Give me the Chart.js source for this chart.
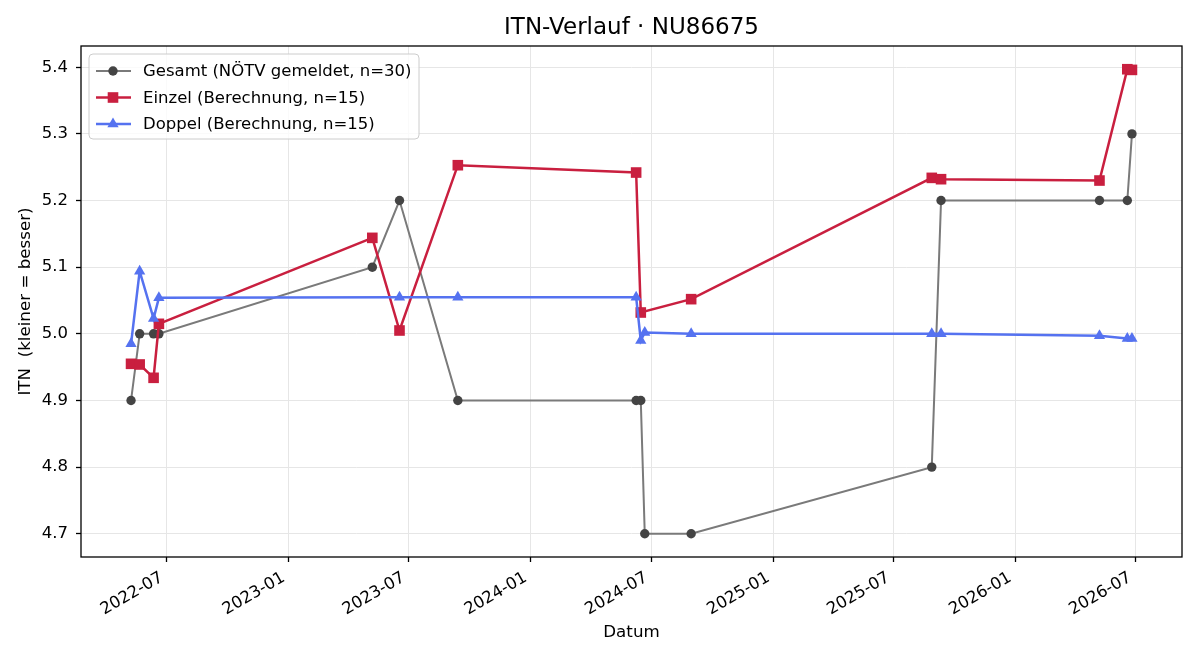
<!DOCTYPE html>
<html lang="de">
<head>
<meta charset="utf-8">
<title>ITN-Verlauf · NU86675</title>
<script src="https://cdn.jsdelivr.net/npm/chart.js@4.4.1/dist/chart.umd.min.js"></script>
<style>
  html, body { margin: 0; padding: 0; background: #fff; }
  #wrap { width: 1200px; height: 660px; }
</style>
</head>
<body>
<div id="wrap"><canvas id="itn-chart" width="1200" height="660"></canvas></div>
<script>
// Werte

const chartTitle = 'ITN-Verlauf · NU86675';

const gesamtDates = ['2022-05-08', '2022-05-21', '2022-06-11', '2022-06-19', '2023-05-07', '2023-06-17',
  '2023-09-13', '2024-06-08', '2024-06-15', '2024-06-21', '2024-08-30', '2025-08-28',
  '2025-09-11', '2026-05-08', '2026-06-19', '2026-06-26'];
const gesamtValues = [4.9, 5.0, 5.0, 5.0, 5.1, 5.2, 4.9, 4.9, 4.9, 4.7, 4.7, 4.8, 5.2, 5.2, 5.2, 5.3];

const einzelDates = ['2022-05-08', '2022-05-21', '2022-06-11', '2022-06-19', '2023-05-07', '2023-06-17',
  '2023-09-13', '2024-06-08', '2024-06-15', '2024-08-30', '2025-08-28', '2025-09-11',
  '2026-05-08', '2026-06-19', '2026-06-26'];
const einzelValues = [4.955, 4.954, 4.934, 5.015, 5.144, 5.005, 5.253, 5.242, 5.032, 5.052, 5.234, 5.232,
  5.230, 5.397, 5.396];

const doppelDates = ['2022-05-08', '2022-05-21', '2022-06-11', '2022-06-19', '2023-06-17', '2023-09-13',
  '2024-06-08', '2024-06-15', '2024-06-21', '2024-08-30', '2025-08-28', '2025-09-11',
  '2026-05-08', '2026-06-19', '2026-06-26'];
const doppelValues = [4.985, 5.094, 5.023, 5.054, 5.055, 5.055, 5.055, 4.990, 5.002, 5.000, 5.000, 5.000,
  4.997, 4.993, 4.993];

const xTickLabels = ['2022-07', '2023-01', '2023-07', '2024-01', '2024-07', '2025-01', '2025-07', '2026-01', '2026-07'];
const yTickValues = [4.7, 4.8, 4.9, 5.0, 5.1, 5.2, 5.3, 5.4];

const FONT = "'DejaVu Sans', 'Noto Sans', sans-serif";

function toTime(s) {
  const [y, m, d] = s.split('-').map(Number);
  return Date.UTC(y, m - 1, d || 1);
}

function toPoints(dates, values) {
  return dates.map((d, i) => ({ x: toTime(d), y: values[i] }));
}

// Achsenbereich wie matplotlib: 5 % Rand um die Daten
const allTimes = [...gesamtDates, ...einzelDates, ...doppelDates].map(toTime);
const allValues = [...gesamtValues, ...einzelValues, ...doppelValues];
const tMin = Math.min(...allTimes), tMax = Math.max(...allTimes);
const vMin = Math.min(...allValues), vMax = Math.max(...allValues);
const tPad = (tMax - tMin) * 0.05, vPad = (vMax - vMin) * 0.05;

// Marker wie in Chart.js zeichnen (für die Legende)
function drawMarker(ctx, style, x, y, r, color) {
  ctx.fillStyle = color;
  ctx.beginPath();
  if (style === 'rect') {
    const s = Math.SQRT1_2 * r;
    ctx.rect(x - s, y - s, 2 * s, 2 * s);
  } else if (style === 'triangle') {
    let rad = 0;
    ctx.moveTo(x + Math.sin(rad) * r, y - Math.cos(rad) * r);
    rad += 2 * Math.PI / 3;
    ctx.lineTo(x + Math.sin(rad) * r, y - Math.cos(rad) * r);
    rad += 2 * Math.PI / 3;
    ctx.lineTo(x + Math.sin(rad) * r, y - Math.cos(rad) * r);
    ctx.closePath();
  } else {
    ctx.arc(x, y, r, 0, Math.PI * 2);
  }
  ctx.fill();
}

// Titel über der Mitte der Zeichenfläche (nicht der ganzen Leinwand)
const areaTitle = {
  id: 'areaTitle',
  afterDraw(chart) {
    const { ctx, chartArea: a } = chart;
    ctx.save();
    ctx.fillStyle = '#000';
    ctx.font = '23px ' + FONT;
    ctx.textAlign = 'center';
    ctx.textBaseline = 'middle';
    ctx.fillText(chartTitle, (a.left + a.right) / 2, 28);
    ctx.restore();
  }
};

// Legende innerhalb der Zeichenfläche (oben links)
const innerLegend = {
  id: 'innerLegend',
  afterDatasetsDraw(chart) {
    const ctx = chart.ctx;
    const area = chart.chartArea;
    const x0 = area.left + 8, y0 = area.top + 8, w = 330, h = 85, r = 4;
    ctx.save();
    ctx.beginPath();
    ctx.moveTo(x0 + r, y0);
    ctx.arcTo(x0 + w, y0, x0 + w, y0 + h, r);
    ctx.arcTo(x0 + w, y0 + h, x0, y0 + h, r);
    ctx.arcTo(x0, y0 + h, x0, y0, r);
    ctx.arcTo(x0, y0, x0 + w, y0, r);
    ctx.closePath();
    ctx.fillStyle = 'rgba(255,255,255,0.8)';
    ctx.fill();
    ctx.strokeStyle = '#cccccc';
    ctx.lineWidth = 1;
    ctx.stroke();

    chart.data.datasets.forEach((ds, i) => {
      const cy = y0 + 17 + i * 26.5;
      ctx.beginPath();
      ctx.moveTo(x0 + 7, cy);
      ctx.lineTo(x0 + 42, cy);
      ctx.strokeStyle = ds.borderColor;
      ctx.lineWidth = ds.borderWidth;
      ctx.stroke();
      drawMarker(ctx, ds.pointStyle, x0 + 24, cy, ds.pointRadius, ds.pointBackgroundColor);
      ctx.fillStyle = '#000';
      ctx.font = '16.5px ' + FONT;
      ctx.textBaseline = 'middle';
      ctx.textAlign = 'left';
      ctx.fillText(ds.label, x0 + 54, cy + 1);
    });
    ctx.restore();
  }
};

// schwarzer Rahmen um die Zeichenfläche
const frame = {
  id: 'frame',
  afterDraw(chart) {
    const { ctx, chartArea: a } = chart;
    ctx.save();
    ctx.strokeStyle = '#000';
    ctx.lineWidth = 1.3;
    ctx.strokeRect(a.left, a.top, a.right - a.left, a.bottom - a.top);
    ctx.restore();
  }
};

Chart.defaults.font.family = FONT;
Chart.defaults.color = '#000';

const ctx = document.getElementById('itn-chart').getContext('2d');
new Chart(ctx, {
  type: 'line',
  data: {
    datasets: [
      {
        label: 'Gesamt (NÖTV gemeldet, n=30)',
        data: toPoints(gesamtDates, gesamtValues),
        borderColor: '#7a7a7a',
        borderWidth: 2,
        pointStyle: 'circle',
        pointRadius: 4.7,
        pointBackgroundColor: '#444444',
        pointBorderColor: '#444444',
        pointBorderWidth: 0,
        order: 3
      },
      {
        label: 'Einzel (Berechnung, n=15)',
        data: toPoints(einzelDates, einzelValues),
        borderColor: '#c91f3f',
        borderWidth: 2.5,
        pointStyle: 'rect',
        pointRadius: 7.5,
        pointBackgroundColor: '#c91f3f',
        pointBorderColor: '#c91f3f',
        pointBorderWidth: 0,
        order: 2
      },
      {
        label: 'Doppel (Berechnung, n=15)',
        data: toPoints(doppelDates, doppelValues),
        borderColor: '#5572f0',
        borderWidth: 2.5,
        pointStyle: 'triangle',
        pointRadius: 6.5,
        pointBackgroundColor: '#5572f0',
        pointBorderColor: '#5572f0',
        pointBorderWidth: 0,
        order: 1
      }
    ]
  },
  options: {
    responsive: false,
    animation: false,
    devicePixelRatio: 1,
    layout: { padding: { left: 0, right: 18, top: 46, bottom: 0 } },
    elements: { line: { tension: 0 } },
    plugins: {
      legend: { display: false },
      tooltip: { enabled: false },
      title: { display: false }
    },
    scales: {
      x: {
        type: 'linear',
        min: tMin - tPad,
        max: tMax + tPad,
        afterBuildTicks: (scale) => {
          scale.ticks = xTickLabels.map(l => ({ value: toTime(l) }));
        },
        afterFit: (scale) => { scale.height = 103; },
        ticks: {
          autoSkip: false,
          minRotation: 30,
          maxRotation: 30,
          padding: 6,
          labelOffset: -5,
          font: { size: 16.5 },
          callback: (value, index) => xTickLabels[index]
        },
        grid: { color: '#e6e6e6', lineWidth: 1, tickLength: 5, tickColor: '#000', tickWidth: 1.3 },
        border: { display: false },
        title: {
          display: true,
          text: 'Datum',
          font: { size: 16.7 },
          padding: { top: 0, bottom: 17 }
        }
      },
      y: {
        type: 'linear',
        min: vMin - vPad,
        max: vMax + vPad,
        afterBuildTicks: (scale) => {
          scale.ticks = yTickValues.map(v => ({ value: v }));
        },
        afterFit: (scale) => { scale.width = 81; },
        ticks: {
          padding: 8,
          font: { size: 16.5 },
          callback: (value) => Number(value).toFixed(1)
        },
        grid: { color: '#e6e6e6', lineWidth: 1, tickLength: 5, tickColor: '#000', tickWidth: 1.3 },
        border: { display: false },
        title: {
          display: true,
          text: 'ITN  (kleiner = besser)',
          font: { size: 16.7 },
          padding: { top: 16, bottom: 0 }
        }
      }
    }
  },
  plugins: [innerLegend, frame, areaTitle]
});
</script>
</body>
</html>
